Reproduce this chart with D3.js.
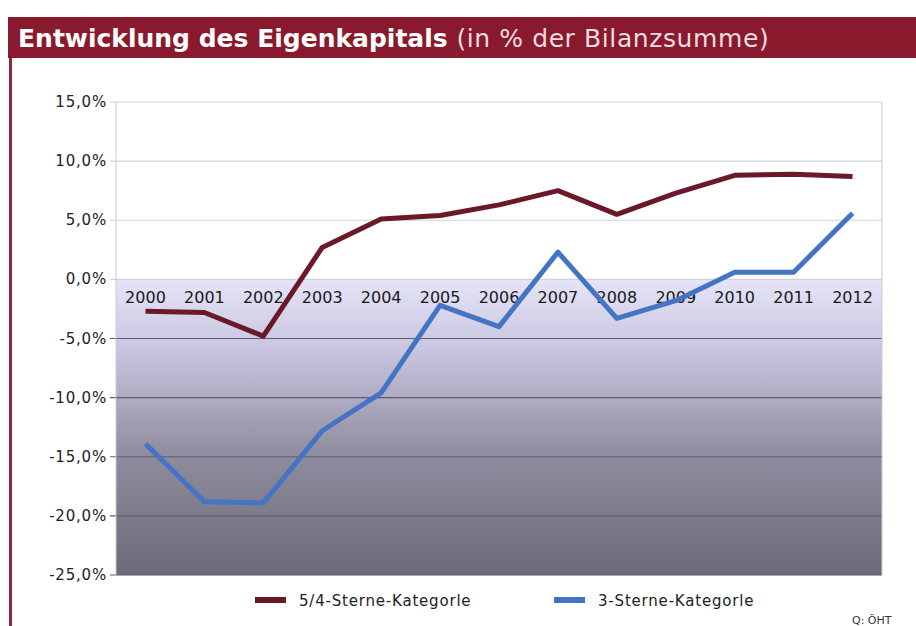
<!DOCTYPE html>
<html>
<head>
<meta charset="utf-8">
<script src="https://cdn.jsdelivr.net/npm/d3@7"></script>
<style>
  body { margin: 0; background: #fff; }
  text { font-family: "DejaVu Sans", Verdana, sans-serif; }
</style>
</head>
<body>
<div id="chart"></div>
<script>
// daten
var years = ["2000","2001","2002","2003","2004","2005","2006","2007","2008","2009","2010","2011","2012"];
var sterne54 = [-2.7, -2.8, -4.8, 2.7, 5.1, 5.4, 6.3, 7.5, 5.5, 7.3, 8.8, 8.9, 8.7];
var sterne3 = [-13.9, -18.8, -18.9, -12.8, -9.6, -2.2, -4.0, 2.3, -3.3, -1.8, 0.6, 0.6, 5.6];
var yTicks = [15, 10, 5, 0, -5, -10, -15, -20, -25];
var seriesNames = ["5/4-Sterne-Kategorle", "3-Sterne-Kategorle"];
var colors = ["#6b1828", "#4474c4"];

var width = 916, height = 626;
var plot = {left: 116, right: 882, top: 102, bottom: 575};

var svg = d3.select("#chart").append("svg")
  .attr("width", width)
  .attr("height", height);

// titelbalken
svg.append("rect")
  .attr("x", 8).attr("y", 17)
  .attr("width", width - 8).attr("height", 41)
  .attr("fill", "#891a2d");
svg.append("rect")
  .attr("x", 9).attr("y", 58)
  .attr("width", 3).attr("height", height - 58)
  .attr("fill", "#8a2a3a");

var title = svg.append("text")
  .attr("x", 18).attr("y", 47)
  .attr("fill", "#fff")
  .style("font-size", "25px");
title.append("tspan").attr("font-weight", "bold").text("Entwicklung des Eigenkapitals ");
title.append("tspan").attr("fill", "#f1dde0")
  .style("letter-spacing", "0.6px")
  .text("(in % der Bilanzsumme)");

// skalen
var x = d3.scaleBand().domain(years).range([plot.left, plot.right]);
var y = d3.scaleLinear().domain([-25, 15]).range([plot.bottom, plot.top]);

// verlauf unter null
var defs = svg.append("defs");
var grad = defs.append("linearGradient")
  .attr("id", "neg").attr("x1", 0).attr("y1", 0).attr("x2", 0).attr("y2", 1);
grad.append("stop").attr("offset", "0%").attr("stop-color", "#e6e4f8");
grad.append("stop").attr("offset", "25%").attr("stop-color", "#c6c3de");
grad.append("stop").attr("offset", "60%").attr("stop-color", "#8e8b9e");
grad.append("stop").attr("offset", "100%").attr("stop-color", "#6d6b79");

svg.append("rect")
  .attr("x", plot.left).attr("y", y(0))
  .attr("width", plot.right - plot.left).attr("height", y(-25) - y(0))
  .attr("fill", "url(#neg)");

// gitter
svg.append("g").selectAll("line")
  .data(yTicks)
  .enter().append("line")
  .attr("x1", plot.left - 6).attr("x2", plot.right)
  .attr("y1", function(d){ return y(d); })
  .attr("y2", function(d){ return y(d); })
  .attr("stroke", function(d){ return d < 0 ? "#5f5d6b" : "#cfd3da"; })
  .attr("stroke-width", 1.2);

svg.append("line")
  .attr("x1", plot.left).attr("x2", plot.left)
  .attr("y1", plot.top).attr("y2", plot.bottom)
  .attr("stroke", "#c8ccd3");
svg.append("line")
  .attr("x1", plot.right).attr("x2", plot.right)
  .attr("y1", plot.top).attr("y2", plot.bottom)
  .attr("stroke", "#c8ccd3");

// y-beschriftung
var fmt = d3.format(".1f");
svg.append("g").selectAll("text")
  .data(yTicks)
  .enter().append("text")
  .attr("x", 107)
  .attr("y", function(d){ return y(d) + 5; })
  .attr("text-anchor", "end")
  .attr("fill", "#222")
  .style("font-size", "15px")
  .style("letter-spacing", "0.8px")
  .text(function(d){ return fmt(d).replace(".", ",").replace("\u2212", "-") + "%"; });

// x-beschriftung (an der nulllinie)
svg.append("g").selectAll("text")
  .data(years)
  .enter().append("text")
  .attr("x", function(d){ return x(d) + x.bandwidth() / 2; })
  .attr("y", y(0) + 24)
  .attr("text-anchor", "middle")
  .attr("fill", "#1a1a1a")
  .style("font-size", "16px")
  .text(function(d){ return d; });

// linien
var line = d3.line()
  .x(function(d, i){ return x(years[i]) + x.bandwidth() / 2; })
  .y(function(d){ return y(d); });

[sterne54, sterne3].forEach(function(s, i) {
  svg.append("path")
    .datum(s)
    .attr("d", line)
    .attr("fill", "none")
    .attr("stroke", colors[i])
    .attr("stroke-width", 5)
    .attr("stroke-linejoin", "round");
});

// legende
var legX = [255, 554];
seriesNames.forEach(function(n, i) {
  svg.append("line")
    .attr("x1", legX[i]).attr("x2", legX[i] + 31)
    .attr("y1", 600).attr("y2", 600)
    .attr("stroke", colors[i])
    .attr("stroke-width", 6);
  svg.append("text")
    .attr("x", legX[i] + 44).attr("y", 606)
    .attr("fill", "#222")
    .style("font-size", "15px")
    .style("letter-spacing", "0.8px")
    .text(n);
});

svg.append("text")
  .attr("x", 852).attr("y", 624)
  .attr("fill", "#333")
  .style("font-size", "11px")
  .text("Q: ÖHT");
</script>
</body>
</html>
